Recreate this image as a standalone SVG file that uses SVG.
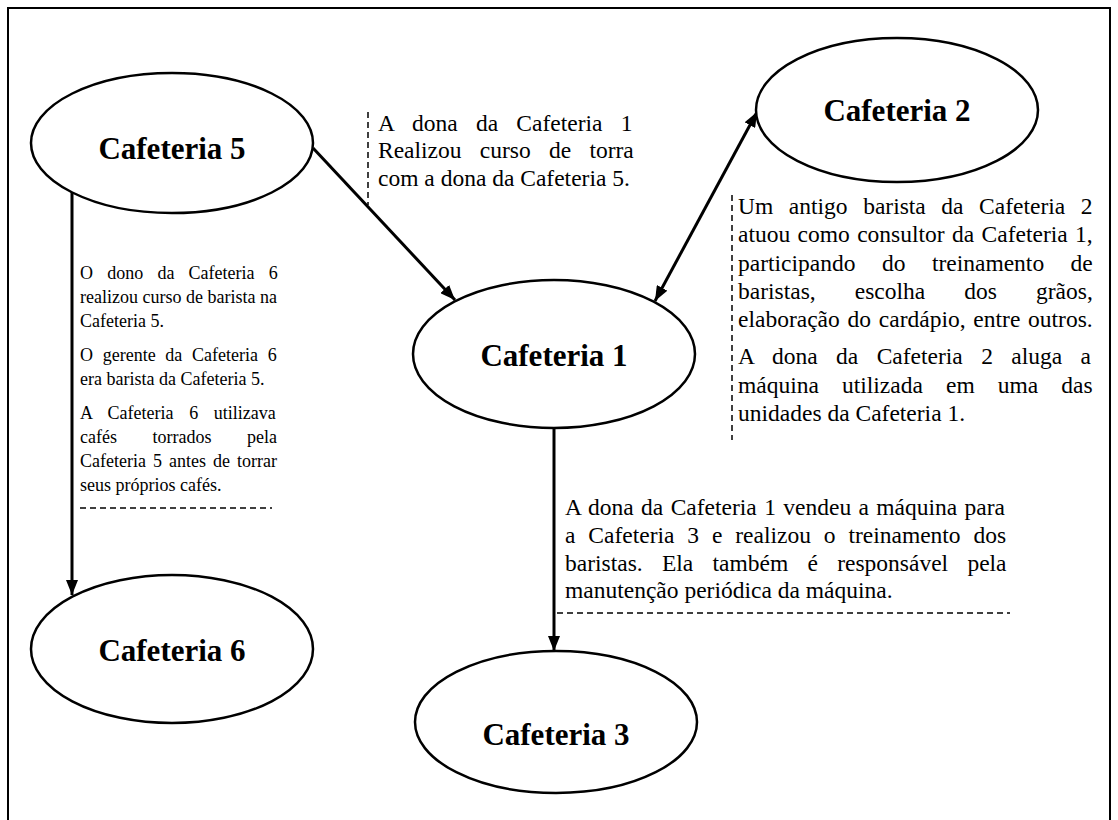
<svg xmlns="http://www.w3.org/2000/svg" width="1118" height="820" viewBox="0 0 1118 820">
<defs>
<style>
.node{fill:#fff;stroke:#000;stroke-width:2.5}
.lbl{font-family:"Liberation Serif","Times New Roman",serif;font-weight:bold;font-size:31px;fill:#000;text-anchor:middle}
.txt{font-family:"Liberation Serif","Times New Roman",serif;font-size:23.5px;fill:#000}
.sm{font-family:"Liberation Serif","Times New Roman",serif;font-size:18px;fill:#000}
.conn{stroke:#000;stroke-width:3;fill:none}
.dash{stroke:#000;stroke-width:1.5;stroke-dasharray:6 4;fill:none}
</style>
<marker id="ah" viewBox="0 0 10 8" refX="10" refY="4" markerWidth="5" markerHeight="4" orient="auto-start-reverse" markerUnits="strokeWidth">
<path d="M0,0 L10,4 L0,8 z" fill="#000"/>
</marker>
</defs>
<rect width="1118" height="820" fill="#fff"/>
<path d="M8,830 V8 H1110 V830" fill="none" stroke="#000" stroke-width="2"/>

<g id="connectors">
<line class="conn" x1="313" y1="148" x2="455" y2="300" marker-end="url(#ah)"/>
<line class="conn" x1="655" y1="301" x2="757" y2="112" marker-start="url(#ah)" marker-end="url(#ah)"/>
<line class="conn" x1="72" y1="192" x2="72" y2="595" marker-end="url(#ah)"/>
<line class="conn" x1="554" y1="427" x2="554" y2="651" marker-end="url(#ah)"/>
</g>

<g id="cafeteria5"><ellipse class="node" cx="172" cy="143" rx="141" ry="70"/><text class="lbl" x="172" y="159">Cafeteria 5</text></g>
<g id="cafeteria2"><ellipse class="node" cx="897" cy="110" rx="141" ry="72"/><text class="lbl" x="897" y="121">Cafeteria 2</text></g>
<g id="cafeteria1"><ellipse class="node" cx="554" cy="354" rx="141" ry="74"/><text class="lbl" x="554" y="366">Cafeteria 1</text></g>
<g id="cafeteria6"><ellipse class="node" cx="172" cy="649" rx="141" ry="74"/><text class="lbl" x="172" y="661">Cafeteria 6</text></g>
<g id="cafeteria3"><ellipse class="node" cx="556" cy="722" rx="141" ry="71"/><text class="lbl" x="556" y="745">Cafeteria 3</text></g>

<g id="note-5-1">
<line class="dash" x1="368" y1="112" x2="368" y2="205"/>
<text class="txt" x="378" y="131" word-spacing="12.4">A dona da Cafeteria 1</text>
<text class="txt" x="378" y="158" word-spacing="12.4">Realizou curso de torra</text>
<text class="txt" x="378" y="186">com a dona da Cafeteria 5.</text>
</g>

<g id="note-1-2">
<line class="dash" x1="732" y1="195" x2="732" y2="440"/>
<text class="txt" x="738" y="214" word-spacing="9.7">Um antigo barista da Cafeteria 2</text>
<text class="txt" x="738" y="242" word-spacing="1.5">atuou como consultor da Cafeteria 1,</text>
<text class="txt" x="738" y="271" word-spacing="20.6">participando do treinamento de</text>
<text class="txt" x="738" y="299" word-spacing="33.2">baristas, escolha dos grãos,</text>
<text class="txt" x="738" y="327" word-spacing="1.9">elaboração do cardápio, entre outros.</text>
<text class="txt" x="738" y="364" word-spacing="12.5">A dona da Cafeteria 2 aluga a</text>
<text class="txt" x="738" y="393" word-spacing="17.2">máquina utilizada em uma das</text>
<text class="txt" x="738" y="421">unidades da Cafeteria 1.</text>
</g>

<g id="note-1-3">
<text class="txt" x="565" y="515" word-spacing="1.5">A dona da Cafeteria 1 vendeu a máquina para</text>
<text class="txt" x="565" y="543" word-spacing="7.0">a Cafeteria 3 e realizou o treinamento dos</text>
<text class="txt" x="565" y="571" word-spacing="13.4">baristas. Ela também é responsável pela</text>
<text class="txt" x="565" y="598">manutenção periódica da máquina.</text>
<line class="dash" x1="557" y1="613" x2="1010" y2="613"/>
</g>

<g id="note-5-6">
<text class="sm" x="80" y="279" word-spacing="9.7">O dono da Cafeteria 6</text>
<text class="sm" x="80" y="303">realizou curso de barista na</text>
<text class="sm" x="80" y="327">Cafeteria 5.</text>
<text class="sm" x="80" y="361" word-spacing="5.2">O gerente da Cafeteria 6</text>
<text class="sm" x="80" y="385">era barista da Cafeteria 5.</text>
<text class="sm" x="80" y="419" word-spacing="11.1">A Cafeteria 6 utilizava</text>
<text class="sm" x="80" y="443" word-spacing="31">cafés torrados pela</text>
<text class="sm" x="80" y="467" word-spacing="2.5">Cafeteria 5 antes de torrar</text>
<text class="sm" x="80" y="491">seus próprios cafés.</text>
<line class="dash" x1="80" y1="508" x2="272" y2="508"/>
</g>
</svg>
